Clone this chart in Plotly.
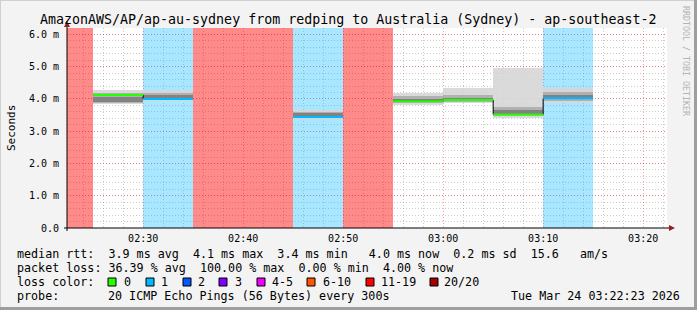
import plotly.graph_objects as go
from datetime import datetime, timedelta

# ---------------- data ----------------
TITLE = "AmazonAWS/AP/ap-au-sydney from redping to Australia (Sydney) - ap-southeast-2"
DAY = "2026-03-24"
interval_start = ["02:20", "02:25", "02:30", "02:35", "02:40", "02:45", "02:50",
                  "02:55", "03:00", "03:05", "03:10", "03:15"]
loss_count = [20, 0, 1, 20, 20, 1, 20, 0, 0, 0, 1, None]          # lost pings of 20
median_ms = [None, 4.12, 4.00, None, None, 3.44, None, 3.93, 3.97, 3.52, 4.02, None]
smoke_min = [None, 3.85, 3.93, None, None, 3.38, None, 3.80, 3.88, 3.42, 3.88, None]
smoke_max = [None, 4.28, 4.28, None, None, 3.66, None, 4.17, 4.35, 4.97, 4.33, None]
smoke_p20 = [None, 3.88, 3.97, None, None, 3.42, None, 3.86, 3.92, 3.46, 3.95, None]
smoke_p80 = [None, 4.19, 4.20, None, None, 3.60, None, 4.08, 4.12, 3.75, 4.22, None]
smoke_p35 = [None, 3.91, 4.00, None, None, 3.44, None, 3.90, 3.95, 3.50, 4.00, None]
smoke_p65 = [None, 4.07, 4.12, None, None, 3.55, None, 4.00, 4.04, 3.65, 4.12, None]

range_start = "02:22:23"
range_end = "03:22:23"
y_tickvals = [0, 1, 2, 3, 4, 5, 6]
y_ticktext = ["0.0", "1.0 m", "2.0 m", "3.0 m", "4.0 m", "5.0 m", "6.0 m"]

loss_labels = ["0", "1", "2", "3", "4-5", "6-10", "11-19", "20/20"]
loss_colors = ["#26ff00", "#00b8ff", "#0059ff", "#7e00ff", "#f000ff", "#ff5500", "#ff0000", "#a10000"]
bg_colors = {1: "rgba(0,184,255,0.34)", 20: "rgba(255,0,0,0.46)"}
line_colors = {0: "#26ff00", 1: "#00b8ff"}

legend_line1 = "median rtt:  3.9 ms avg  4.1 ms max  3.4 ms min   4.0 ms now  0.2 ms sd  15.6   am/s"
legend_line2 = "packet loss: 36.39 % avg  100.00 % max  0.00 % min  4.00 % now"
legend_line3 = "loss color:"
legend_line4a = "probe:"
legend_line4b = "20 ICMP Echo Pings (56 Bytes) every 300s"
stamp = "Tue Mar 24 03:22:23 2026"
side_text = "RRDTOOL / TOBI OETIKER"
y_title = "Seconds"

# ---------------- layout constants ----------------
W, H = 697, 310
L, T, PW, PH = 67, 28, 600, 200
FONT = "DejaVu Sans Mono"
STEP_MS = 300000
STEP = timedelta(minutes=5)


def ts(hm):
    fmt = "%H:%M:%S" if hm.count(":") == 2 else "%H:%M"
    return datetime.strptime(DAY + " " + hm, "%Y-%m-%d " + fmt)


def px(x):
    return (x - L) / PW


def py(y):
    return (T + PH - y) / PH


starts = [ts(s) for s in interval_start]
YMAX = 6.2

fig = go.Figure()

# loss backgrounds
for lc, col in bg_colors.items():
    fig.add_trace(go.Bar(
        x=[s for s, l in zip(starts, loss_count) if l == lc],
        y=[YMAX for l in loss_count if l == lc],
        base=0, width=STEP_MS, offset=0,
        marker=dict(color=col, line=dict(width=0)),
        hoverinfo="skip", showlegend=False))

# smoke bands
bands = [(smoke_min, smoke_max, "rgba(214,214,214,0.9)"),
         (smoke_p20, smoke_p80, "rgba(172,172,172,0.9)"),
         (smoke_p35, smoke_p65, "rgba(125,125,125,0.9)")]
for lo, hi, col in bands:
    xs, ys, bs = [], [], []
    for s, a, b in zip(starts, lo, hi):
        if a is not None:
            xs.append(s)
            ys.append(b - a)
            bs.append(a)
    fig.add_trace(go.Bar(x=xs, y=ys, base=bs, width=STEP_MS, offset=0,
                         marker=dict(color=col, line=dict(width=0)),
                         hoverinfo="skip", showlegend=False))

# black step connecting medians
fig.add_trace(go.Scatter(x=starts, y=median_ms, mode="lines",
                         line=dict(color="#000000", width=1, shape="hv"),
                         hoverinfo="skip", showlegend=False))

# coloured median segments
for lc, col in line_colors.items():
    xs, ys = [], []
    for s, m, l in zip(starts, median_ms, loss_count):
        if m is not None and l == lc:
            xs += [s, s + STEP, None]
            ys += [m, m, None]
    fig.add_trace(go.Scatter(x=xs, y=ys, mode="lines",
                             line=dict(color=col, width=2),
                             hoverinfo="skip", showlegend=False))

shapes = []
# frame
shapes.append(dict(type="line", xref="paper", yref="paper", x0=px(0.5), x1=px(0.5), y0=py(0), y1=py(H),
                   line=dict(color="#cfcfcf", width=1)))
shapes.append(dict(type="line", xref="paper", yref="paper", x0=px(0), x1=px(W), y0=py(0.5), y1=py(0.5),
                   line=dict(color="#cfcfcf", width=1)))
shapes.append(dict(type="line", xref="paper", yref="paper", x0=px(W - 1.5), x1=px(W - 1.5), y0=py(0), y1=py(H),
                   line=dict(color="#9e9e9e", width=3)))
shapes.append(dict(type="line", xref="paper", yref="paper", x0=px(0), x1=px(W), y0=py(H - 1.5), y1=py(H - 1.5),
                   line=dict(color="#9e9e9e", width=3)))
# axes
shapes.append(dict(type="line", xref="paper", yref="paper", x0=px(64), x1=px(670), y0=py(228), y1=py(228),
                   line=dict(color="#000000", width=1)))
shapes.append(dict(type="line", xref="paper", yref="paper", x0=px(67), x1=px(67), y0=py(231), y1=py(25),
                   line=dict(color="#000000", width=1)))
arrow_col = "#9b1c1c"
shapes.append(dict(type="path", xref="paper", yref="paper",
                   path=f"M {px(669)},{py(225)} L {px(675)},{py(228)} L {px(669)},{py(231)} Z",
                   fillcolor=arrow_col, line=dict(color=arrow_col, width=0)))
shapes.append(dict(type="path", xref="paper", yref="paper",
                   path=f"M {px(64)},{py(27)} L {px(67)},{py(21)} L {px(70)},{py(27)} Z",
                   fillcolor=arrow_col, line=dict(color=arrow_col, width=0)))
# legend colour boxes
box_left = [108, 146, 183, 219, 257, 307, 366, 430]
label_left = [122.5, 159.5, 196.5, 233.5, 270.5, 321.5, 379.5, 443.5]
for bx, col in zip(box_left, loss_colors):
    shapes.append(dict(type="rect", xref="paper", yref="paper",
                       x0=px(bx), x1=px(bx + 8), y0=py(286), y1=py(278),
                       fillcolor=col, line=dict(color="#000000", width=1)))

ann = []


def text(x, y, s, size=11.7, anchor="left", color="#000000", angle=0):
    ann.append(dict(xref="paper", yref="paper", x=px(x), y=py(y), text=s.replace(" ", "\u00a0"),
                    showarrow=False, xanchor=anchor, yanchor="middle", borderpad=0,
                    textangle=angle, font=dict(family=FONT, size=size, color=color)))


text(348, 19, TITLE, size=13.3, anchor="center")
text(16, 254, legend_line1)
text(16, 268, legend_line2)
text(16, 282, legend_line3)
for lx, lab in zip(label_left, loss_labels):
    text(lx, 282, lab)
text(16, 296, legend_line4a)
text(107, 296, legend_line4b)
text(681, 296, stamp, anchor="right")
text(11, 128, y_title, size=11, anchor="center", angle=-90)
text(686, 61, side_text, size=8.3, anchor="center", color="#b4b4b4", angle=90)

fig.update_layout(
    width=W, height=H, autosize=False,
    margin=dict(l=L, r=W - L - PW, t=T, b=H - T - PH, pad=0),
    paper_bgcolor="#f3f3f3", plot_bgcolor="#ffffff",
    barmode="overlay", bargap=0, showlegend=False,
    shapes=shapes, annotations=ann,
    font=dict(family=FONT, size=10, color="#000000"),
)
fig.update_xaxes(
    type="date", range=[ts(range_start), ts(range_end)],
    dtick=600000, tickformat="%H:%M", ticks="", ticklabelstandoff=3,
    showgrid=True, gridcolor="rgba(255,0,0,0.38)", griddash="1px,2px", gridwidth=1,
    minor=dict(dtick=120000, showgrid=True, gridcolor="rgba(120,120,120,0.38)",
               griddash="1px,2px", gridwidth=1),
    showline=False, zeroline=False, fixedrange=True,
    tickfont=dict(family=FONT, size=10, color="#000000"),
)
fig.update_yaxes(
    range=[0, YMAX], tickvals=y_tickvals, ticktext=y_ticktext, ticks="",
    ticklabelstandoff=7,
    showgrid=True, gridcolor="rgba(255,0,0,0.38)", griddash="1px,2px", gridwidth=1,
    minor=dict(dtick=0.2, showgrid=True, gridcolor="rgba(120,120,120,0.38)",
               griddash="1px,2px", gridwidth=1),
    showline=False, zeroline=False, fixedrange=True,
    tickfont=dict(family=FONT, size=10, color="#000000"),
)

fig.write_html("out.html", config={"displayModeBar": False})
